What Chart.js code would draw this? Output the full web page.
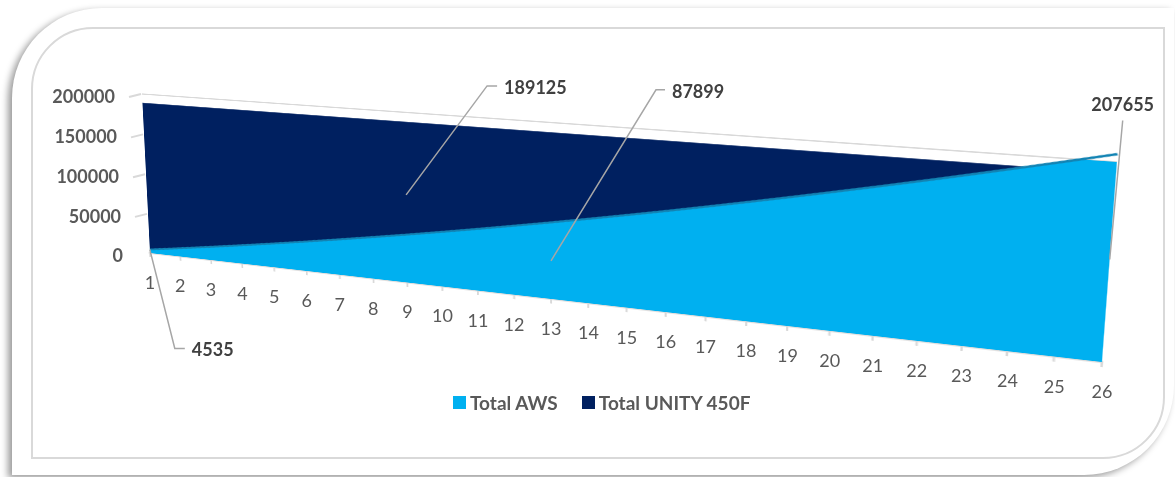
<!DOCTYPE html>
<html>
<head>
<meta charset="utf-8">
<script src="https://cdn.jsdelivr.net/npm/chart.js@4.4.1/dist/chart.umd.min.js"></script>
<style>
  html, body { margin: 0; padding: 0; background: #fff; }
  #page { position: relative; width: 1175px; height: 477px; overflow: hidden; font-family: Lato, 'Open Sans', sans-serif; }
  #outer { position: absolute; left: 12px; top: 8px; width: 1162px; height: 467px; background: #fff;
           border-radius: 90px 0 90px 0; box-shadow: -4px 3px 7px rgba(0,0,0,0.4); }
  #inner { position: absolute; left: 31px; top: 27px; width: 1130px; height: 428px;
           border: 2px solid #d9d9d9; border-radius: 62px 0 62px 0; }
  #chart { position: absolute; left: 0; top: 0; transform-origin: 0 0; }
  #overlay { position: absolute; left: 0; top: 0; width: 1175px; height: 477px; }
  #overlay svg { position: absolute; left: 0; top: 0; }
  .t { position: absolute; white-space: nowrap; line-height: 1; font-size: 18px; color: #595959; }
  .x { font-weight: 400; }
  .y { font-weight: 700; }
  .d { font-weight: 700; color: #404040; }
  #legend { position: absolute; left: 453px; top: 393px; display: flex; align-items: center;
            font-weight: 700; font-size: 19px; color: #595959; line-height: 1; }
  #legend span.box { display: inline-block; width: 13px; height: 13px; margin-right: 4px; }
  #legend span.item { display: flex; align-items: center; margin-right: 24px; }
</style>
</head>
<body>
<div id="page">
  <div id="outer"></div>
  <div id="inner"></div>
  <canvas id="chart" width="1000" height="300"></canvas>
  <div id="overlay"></div>
  <div id="legend"></div>
</div>
<script>
const categories = ['1', '2', '3', '4', '5', '6', '7', '8', '9', '10', '11', '12', '13',
  '14', '15', '16', '17', '18', '19', '20', '21', '22', '23', '24', '25', '26'];
const totalAws = [4535, 10490, 16620, 22930, 29430, 36100, 42960, 49990, 57210, 64610,
  72200, 79960, 87899, 96030, 104330, 112820, 121490, 130340, 139370, 148580,
  157980, 167550, 177310, 187250, 197360, 207655];
const totalUnity = [189125, 189125, 189125, 189125, 189125, 189125, 189125, 189125, 189125,
  189125, 189125, 189125, 189125, 189125, 189125, 189125, 189125, 189125, 189125,
  189125, 189125, 189125, 189125, 189125, 189125, 189125];
const yTicks = [0, 50000, 100000, 150000, 200000];
const seriesNames = ['Total AWS', 'Total UNITY 450F'];
const seriesColors = ['#00b0f0', '#002060'];

// which points carry a data label (dataset, index, height share of the value)
const labelPoints = [
  { ds: 0, i: 0, frac: 1 },
  { ds: 0, i: 12, frac: 0.5 },
  { ds: 1, i: 8, frac: 0.55 },
  { ds: 0, i: 25, frac: 0.5 }
];
// leader line offsets for those labels, page pixels
const labelOffsets = [
  { dx: 25, dy: 99, tail: 10 },
  { dx: 105, dy: -171, tail: 9 },
  { dx: 81, dy: -109, tail: 10 },
  { dx: 13, dy: -139, tail: 0 }
];
// where the plot plane lands on the page (3-D look): TL, TR, BR, BL
const plane = [[142, 94], [1117, 162], [1102, 362], [150, 253]];

function homography(src, dst) {
  const A = [], b = [];
  for (let k = 0; k < 4; k++) {
    const [x, y] = src[k], [u, v] = dst[k];
    A.push([x, y, 1, 0, 0, 0, -u * x, -u * y]); b.push(u);
    A.push([0, 0, 0, x, y, 1, -v * x, -v * y]); b.push(v);
  }
  for (let c = 0; c < 8; c++) {
    let p = c;
    for (let r = c + 1; r < 8; r++) if (Math.abs(A[r][c]) > Math.abs(A[p][c])) p = r;
    [A[c], A[p]] = [A[p], A[c]];
    [b[c], b[p]] = [b[p], b[c]];
    for (let r = 0; r < 8; r++) {
      if (r === c) continue;
      const f = A[r][c] / A[c][c];
      for (let k = c; k < 8; k++) A[r][k] -= f * A[c][k];
      b[r] -= f * b[c];
    }
  }
  const h = b.map((v, k) => v / A[k][k]);
  return [h[0], h[1], h[2], h[3], h[4], h[5], h[6], h[7], 1];
}

function project(H, x, y) {
  const w = H[6] * x + H[7] * y + H[8];
  return [(H[0] * x + H[1] * y + H[2]) / w, (H[3] * x + H[4] * y + H[5]) / w];
}

function addText(parent, text, x, y, align, cls) {
  const s = document.createElement('span');
  s.className = 't ' + cls;
  s.textContent = text;
  s.style.left = x + 'px';
  s.style.top = y + 'px';
  const tx = align === 'center' ? '-50%' : align === 'right' ? '-100%' : '0';
  s.style.transform = 'translate(' + tx + ',-50%)';
  parent.appendChild(s);
}

function line(pts, color, width) {
  return '<polyline points="' + pts.map(p => p[0].toFixed(1) + ',' + p[1].toFixed(1)).join(' ') +
    '" fill="none" stroke="' + color + '" stroke-width="' + width + '"/>';
}

const perspectivePlugin = {
  id: 'perspective',
  afterRender(chart) {
    const a = chart.chartArea;
    const H = homography([[a.left, a.top], [a.right, a.top], [a.right, a.bottom], [a.left, a.bottom]], plane);
    chart.canvas.style.transform = 'matrix3d(' +
      [H[0], H[3], 0, H[6], H[1], H[4], 0, H[7], 0, 0, 1, 0, H[2], H[5], 0, H[8]].join(',') + ')';

    const ov = document.getElementById('overlay');
    ov.innerHTML = '';
    let svg = '';
    const xs = chart.scales.x, ys = chart.scales.y;

    xs.ticks.forEach((t, k) => {
      const [X, Y] = project(H, xs.getPixelForTick(k), a.bottom);
      addText(ov, xs.getLabelForValue(t.value), X, Y + 29, 'center', 'x');
    });
    ys.ticks.forEach(t => {
      const [X, Y] = project(H, a.left, ys.getPixelForValue(t.value));
      addText(ov, String(t.value), X - 27, Y + 2, 'right', 'y');
      if (t.value > 0) svg += line([[X - 13, Y + 3], [X - 1, Y]], '#d9d9d9', 2);
    });

    labelPoints.forEach((lp, k) => {
      const off = labelOffsets[k];
      const v = chart.data.datasets[lp.ds].data[lp.i];
      const [AX, AY] = project(H, xs.getPixelForValue(lp.i), ys.getPixelForValue(v * lp.frac));
      const EX = AX + off.dx, EY = AY + off.dy;
      if (off.tail) {
        svg += line([[AX, AY], [EX, EY], [EX + off.tail, EY]], '#a6a6a6', 1.5);
        addText(ov, String(v), EX + off.tail + 7, EY + 1, 'left', 'd');
      } else {
        svg += line([[AX, AY], [EX, EY]], '#a6a6a6', 1.5);
        addText(ov, String(v), EX, EY - 16, 'center', 'd');
      }
    });
    ov.insertAdjacentHTML('afterbegin', '<svg width="1175" height="477">' + svg + '</svg>');
  }
};

const chart = new Chart(document.getElementById('chart'), {
  type: 'line',
  data: {
    labels: categories,
    datasets: [{
      label: seriesNames[0],
      data: totalAws,
      backgroundColor: seriesColors[0],
      borderColor: '#1283b3',
      borderWidth: 3,
      fill: 'origin',
      pointRadius: 0,
      clip: false
    }, {
      label: seriesNames[1],
      data: totalUnity,
      backgroundColor: seriesColors[1],
      borderColor: seriesColors[1],
      borderWidth: 0,
      fill: 'origin',
      pointRadius: 0,
      clip: false
    }]
  },
  options: {
    responsive: false,
    animation: false,
    devicePixelRatio: 2,
    layout: { padding: { left: 20, right: 20, top: 20, bottom: 10 } },
    plugins: { legend: { display: false }, tooltip: { enabled: false } },
    scales: {
      x: {
        ticks: { display: false },
        grid: { drawOnChartArea: false, color: '#d9d9d9', lineWidth: 2, tickLength: 7 },
        border: { color: '#d9d9d9', width: 3 }
      },
      y: {
        min: 0,
        max: 200000,
        afterBuildTicks: s => { s.ticks = yTicks.map(v => ({ value: v })); },
        ticks: { display: false },
        grid: { color: '#d9d9d9', lineWidth: 2, drawTicks: false },
        border: { display: false }
      }
    }
  },
  plugins: [perspectivePlugin]
});

const legend = document.getElementById('legend');
chart.data.datasets.forEach(ds => {
  const item = document.createElement('span');
  item.className = 'item';
  item.innerHTML = '<span class="box" style="background:' + ds.backgroundColor + '"></span>' + ds.label;
  legend.appendChild(item);
});
</script>
</body>
</html>
